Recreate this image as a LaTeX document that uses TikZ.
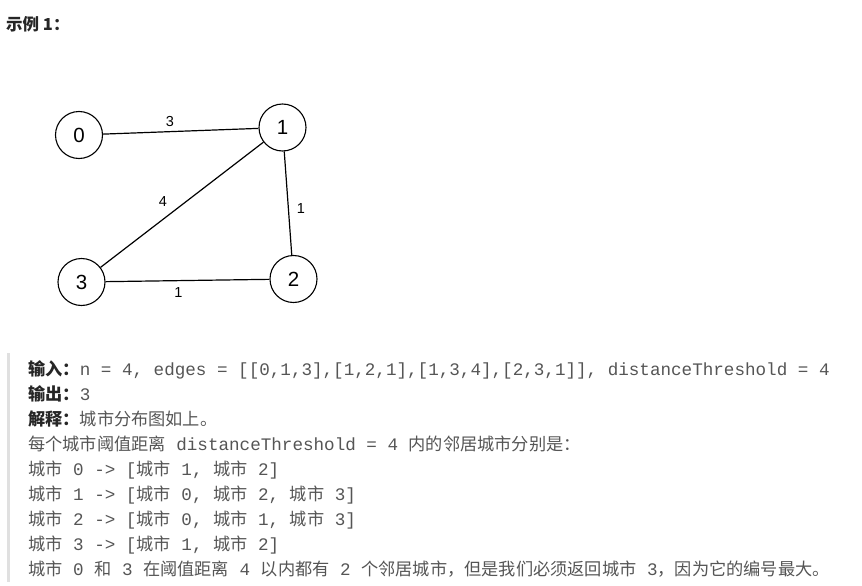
\documentclass[tikz,border=0pt]{standalone}
\usepackage{fontspec}
\setmainfont{Liberation Sans}
\setmonofont{Liberation Mono}
\newfontfamily\cjk{Noto Sans CJK SC}
\definecolor{bodygray}{RGB}{85,85,85}
\definecolor{labdark}{RGB}{38,38,38}
\definecolor{barcol}{RGB}{224,224,224}
\newcommand\zh[1]{{\cjk\fontsize{17.2}{20}\selectfont #1}}
\newcommand\lab[1]{{\color{labdark}\cjk\bfseries\fontsize{17.2}{20}\selectfont #1}}
\tikzset{
  city/.style={circle, draw=black, line width=1.1pt, minimum size=47pt, inner sep=0pt,
    font=\fontsize{20.5}{24}\selectfont},
  road/.style={line width=1.2pt, draw=black},
  wlab/.style={inner sep=0pt, font=\fontsize{14.5}{17}\selectfont},
  txt/.style={anchor=base west, inner sep=0pt, text=bodygray,
    font=\ttfamily\fontsize{17.6}{20}\selectfont},
}
\begin{document}
\begin{tikzpicture}[x=1pt, y=-1pt]
\useasboundingbox (0,0) rectangle (862,586);
% title
\node[anchor=base west, inner sep=0pt, text=labdark,
  font=\cjk\bfseries\fontsize{16.5}{19}\selectfont] (title) at (6,30.5) {示例 1：};
% graph
\node[city] (n0) at (79,135) {0};
\node[city] (n1) at (282.5,127.5) {1};
\node[city] (n2) at (293.5,279) {2};
\node[city] (n3) at (81.5,282) {3};
\draw[road] (n0) -- (n1);
\draw[road] (n1) -- (n2);
\draw[road] (n1) -- (n3);
\draw[road] (n3) -- (n2);
\node[wlab] (w01) at (170,121.5) {3};
\node[wlab] (w13) at (163,202) {4};
\node[wlab] (w12) at (301,208.5) {1};
\node[wlab] (w32) at (178.5,292.5) {1};
% quote bar
\fill[barcol] (7,353) rectangle (10,582);
% text
\node[txt] (t1) at (28,375) {\lab{输入：}n = 4, edges = [[0,1,3],[1,2,1],[1,3,4],[2,3,1]], distanceThreshold = 4};
\node[txt] (t2) at (28,400) {\lab{输出：}3};
\node[txt] (t3) at (28,425) {\lab{解释：}\zh{城市分布图如上。}};
\node[txt] (t4) at (28,450) {\zh{每个城市阈值距离} distanceThreshold = 4 \zh{内的邻居城市分别是：}};
\node[txt] (t5) at (28,475) {\zh{城市} 0 -> [\zh{城市} 1, \zh{城市} 2]};
\node[txt] (t6) at (28,500) {\zh{城市} 1 -> [\zh{城市} 0, \zh{城市} 2, \zh{城市} 3]};
\node[txt] (t7) at (28,525) {\zh{城市} 2 -> [\zh{城市} 0, \zh{城市} 1, \zh{城市} 3]};
\node[txt] (t8) at (28,550) {\zh{城市} 3 -> [\zh{城市} 1, \zh{城市} 2]};
\node[txt] (t9) at (28,575) {\zh{城市} 0 \zh{和} 3 \zh{在阈值距离} 4 \zh{以内都有} 2 \zh{个邻居城市，但是我们必须返回城市} 3\zh{，因为它的编号最大。}};
\end{tikzpicture}
\end{document}
